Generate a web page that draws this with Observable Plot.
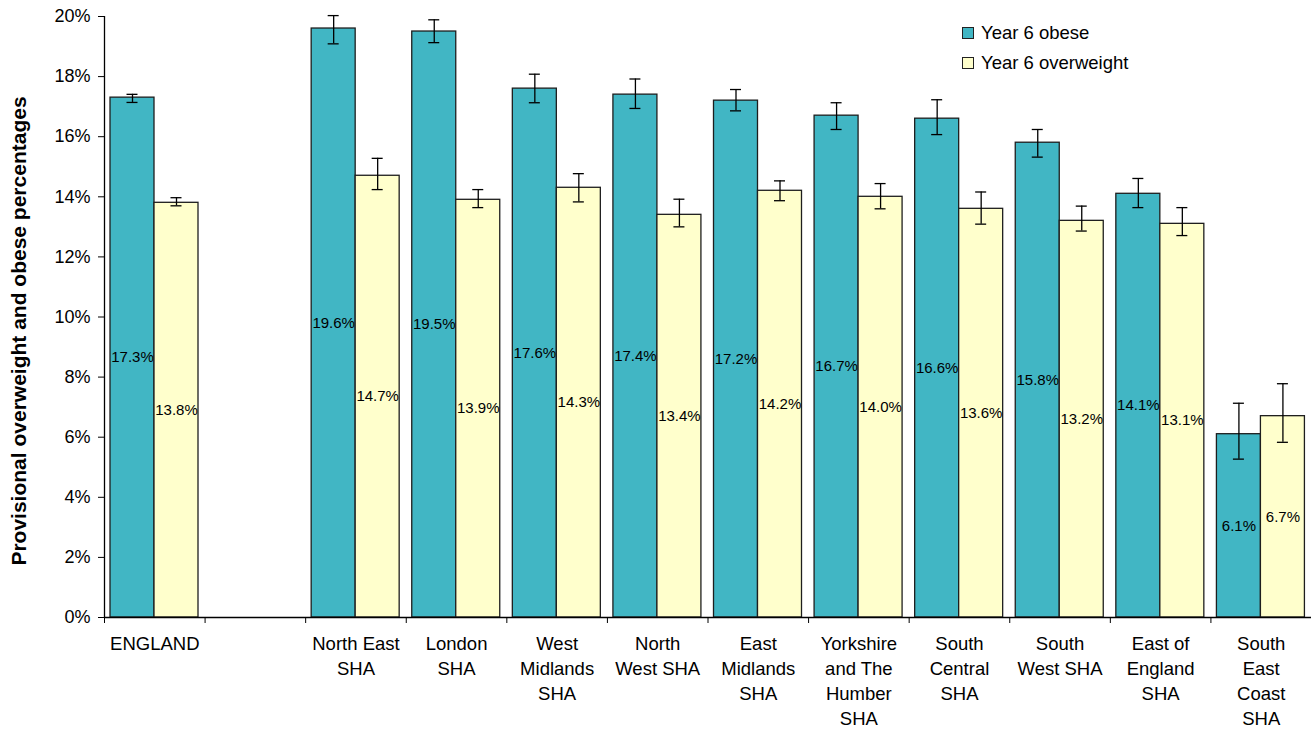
<!DOCTYPE html>
<html>
<head>
<meta charset="utf-8">
<script src="https://cdn.jsdelivr.net/npm/d3@7"></script>
<script src="https://cdn.jsdelivr.net/npm/@observablehq/plot@0.6"></script>
<style>
  html, body { margin: 0; padding: 0; background: #fff; }
  #wrap { position: relative; width: 1311px; height: 731px; font-family: "Liberation Sans", Arial, sans-serif; }
  #legend { position: absolute; left: 962px; top: 18px; font-size: 18.5px; color: #000; }
  #legend .row { height: 30px; line-height: 30px; display: flex; align-items: center; white-space: nowrap; }
  #legend .sw { width: 10px; height: 10px; border: 1.3px solid #222; margin-right: 7px; }
</style>
</head>
<body>
<div id="wrap"><div id="legend"></div></div>
<script>
// ---- data ----
const regions = ["ENGLAND", "gap", "North East SHA", "London SHA", "West Midlands SHA", "North West SHA",
  "East Midlands SHA", "Yorkshire and The Humber SHA", "South Central SHA", "South West SHA",
  "East of England SHA", "South East Coast SHA"];
const tickLabels = ["ENGLAND", "", "North East\nSHA", "London\nSHA", "West\nMidlands\nSHA", "North\nWest SHA",
  "East\nMidlands\nSHA", "Yorkshire\nand The\nHumber\nSHA", "South\nCentral\nSHA", "South\nWest SHA",
  "East of\nEngland\nSHA", "South\nEast\nCoast\nSHA"];
const dataRegions = regions.filter(r => r !== "gap");
const obese          = [17.3, 19.6, 19.5, 17.6, 17.4, 17.2, 16.7, 16.6, 15.8, 14.1, 6.1];
const obeseLow       = [17.14, 19.09, 19.13, 17.13, 16.94, 16.86, 16.24, 16.07, 15.32, 13.64, 5.27];
const obeseHigh      = [17.41, 20.03, 19.89, 18.08, 17.92, 17.57, 17.13, 17.23, 16.24, 14.61, 7.13];
const overweight     = [13.8, 14.7, 13.9, 14.3, 13.4, 14.2, 14.0, 13.6, 13.2, 13.1, 6.7];
const overweightLow  = [13.70, 14.24, 13.64, 13.83, 13.00, 13.87, 13.60, 13.09, 12.86, 12.71, 5.83];
const overweightHigh = [13.97, 15.28, 14.24, 14.77, 13.92, 14.53, 14.44, 14.16, 13.69, 13.64, 7.78];
const seriesNames = ["Year 6 obese", "Year 6 overweight"];
const seriesColors = ["#41B6C4", "#FFFFCC"];
const yTicks = [0, 2, 4, 6, 8, 10, 12, 14, 16, 18, 20];
const yTitle = "Provisional overweight and obese percentages";

// ---- tables ----
const obRows = dataRegions.map((r, i) => ({region: r, value: obese[i], lo: obeseLow[i], hi: obeseHigh[i]}));
const owRows = dataRegions.map((r, i) => ({region: r, value: overweight[i], lo: overweightLow[i], hi: overweightHigh[i]}));

// ---- layout ----
const W = 1311, H = 731, ml = 104, mr = 0, mt = 16, mb = 114;
const step = (W - ml - mr) / regions.length;
const pad = 6, bw = 44, cap = 5.5;
const obC = pad + bw / 2, owC = pad + 1.5 * bw;   // bar centres within a slot
const font = "'Liberation Sans', Arial, sans-serif";

function seriesMarks(rows, c, color) {
  return [
    Plot.barY(rows, {x: "region", y: "value", fill: color, stroke: "#1e1e1e", strokeWidth: 1.3,
      insetLeft: c - bw / 2, insetRight: step - c - bw / 2}),
    Plot.ruleX(rows, {x: "region", y1: "lo", y2: "hi", dx: c - step / 2, stroke: "#000", strokeWidth: 1.3}),
    Plot.tickY(rows, {x: "region", y: "lo", stroke: "#000", strokeWidth: 1.3, insetLeft: c - cap, insetRight: step - c - cap}),
    Plot.tickY(rows, {x: "region", y: "hi", stroke: "#000", strokeWidth: 1.3, insetLeft: c - cap, insetRight: step - c - cap}),
    Plot.text(rows, {x: "region", y: d => d.value / 2, text: d => d.value.toFixed(1) + "%",
      dx: c - step / 2, fontSize: 15, fill: "#000"})
  ];
}

const chart = Plot.plot({
  width: W, height: H,
  marginLeft: ml, marginRight: mr, marginTop: mt, marginBottom: mb,
  style: {fontFamily: font, color: "#000", background: "transparent", overflow: "visible"},
  x: {type: "band", domain: regions, padding: 0, round: false, label: null},
  y: {domain: [0, 20], label: null},
  marks: [
    ...seriesMarks(obRows, obC, seriesColors[0]),
    ...seriesMarks(owRows, owC, seriesColors[1]),
    Plot.ruleY([0], {stroke: "#000", strokeWidth: 1.3}),
    Plot.ruleX([regions[0]], {dx: -step / 2, stroke: "#000", strokeWidth: 1.3}),
    Plot.axisY({ticks: yTicks, tickFormat: d => d + "%", tickSize: 6, tickPadding: 8, fontSize: 18, label: null}),
    Plot.axisX({tickSize: 6, tickFormat: () => "", dx: -step / 2, label: null}),
    Plot.axisX({tickSize: 0, tickPadding: 15, fontSize: 18.5, lineHeight: 1.35, label: null,
      tickFormat: d => tickLabels[regions.indexOf(d)]}),
    Plot.text([yTitle], {frameAnchor: "left", textAnchor: "middle", rotate: -90, dx: -85.5, dy: 14,
      fontWeight: "bold", fontSize: 21, fill: "#000"})
  ]
});

const wrap = document.getElementById("wrap");
wrap.insertBefore(chart, wrap.firstChild);

const legend = document.getElementById("legend");
seriesNames.forEach((name, i) => {
  const row = document.createElement("div");
  row.className = "row";
  const sw = document.createElement("span");
  sw.className = "sw";
  sw.style.background = seriesColors[i];
  const t = document.createElement("span");
  t.textContent = name;
  row.appendChild(sw);
  row.appendChild(t);
  legend.appendChild(row);
});
</script>
</body>
</html>
